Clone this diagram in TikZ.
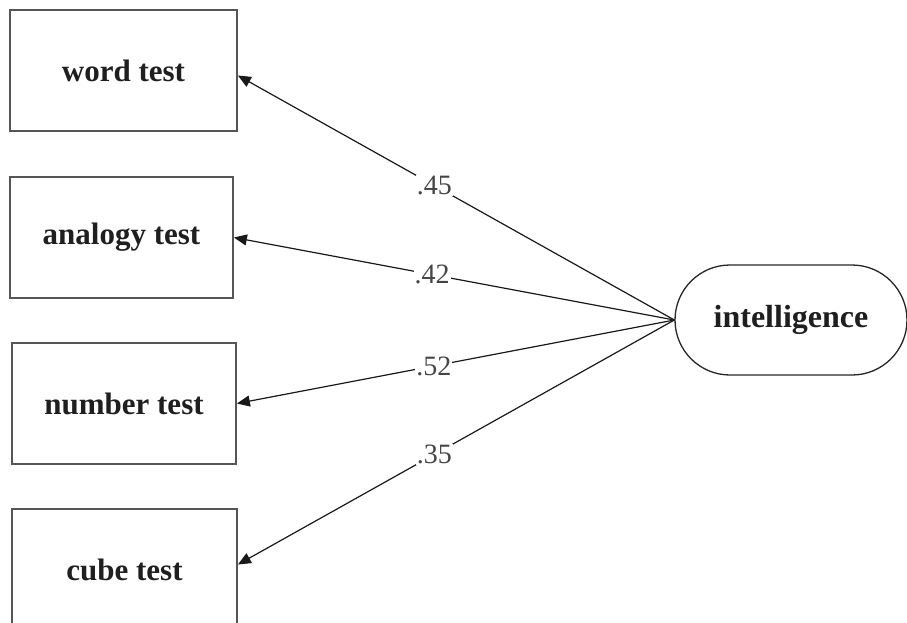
\documentclass[tikz,border=0pt]{standalone}
\usepackage{fontspec}
\setmainfont{Liberation Serif}
\usetikzlibrary{arrows.meta,shapes.misc}
\definecolor{boxline}{HTML}{555555}
\definecolor{labtext}{HTML}{454545}
\tikzset{
  testbox/.style={draw=boxline, line width=1.8pt, fill=white, minimum height=121pt,
    inner sep=0pt, font=\fontsize{31}{34}\selectfont\bfseries, text=black!88},
  latent/.style={draw=black!85, line width=1.3pt, rounded rectangle, minimum width=232pt,
    minimum height=110pt, inner sep=0pt, font=\fontsize{32}{34}\selectfont\bfseries, text=black!88},
  loading/.style={draw=black!90, line width=1.2pt, -{Triangle[length=13pt,width=11pt]}},
  coef/.style={fill=white, inner sep=1pt, text=labtext, font=\fontsize{28}{32}\selectfont, pos=0.55}
}
\begin{document}
\begin{tikzpicture}[x=1pt,y=-1pt]
\useasboundingbox (0,0) rectangle (907,622);
\node[testbox, minimum width=227pt] (w) at (123.5,70.5) {word test};
\node[testbox, minimum width=223pt] (a) at (121.5,237.5) {analogy test};
\node[testbox, minimum width=224pt] (n) at (124,403.5) {number test};
\node[testbox, minimum width=225pt] (c) at (124.5,569.5) {cube test};
\node[latent] (i) at (791,320) {intelligence};
\coordinate (wt) at ([yshift=-5pt]w.east);
\coordinate (ct) at ([yshift=5pt]c.east);
\draw[loading] (i.west) -- node[coef] {.45} (wt);
\draw[loading] (i.west) -- node[coef] {.42} (a.east);
\draw[loading] (i.west) -- node[coef] {.52} (n.east);
\draw[loading] (i.west) -- node[coef] {.35} (ct);
\end{tikzpicture}
\end{document}
